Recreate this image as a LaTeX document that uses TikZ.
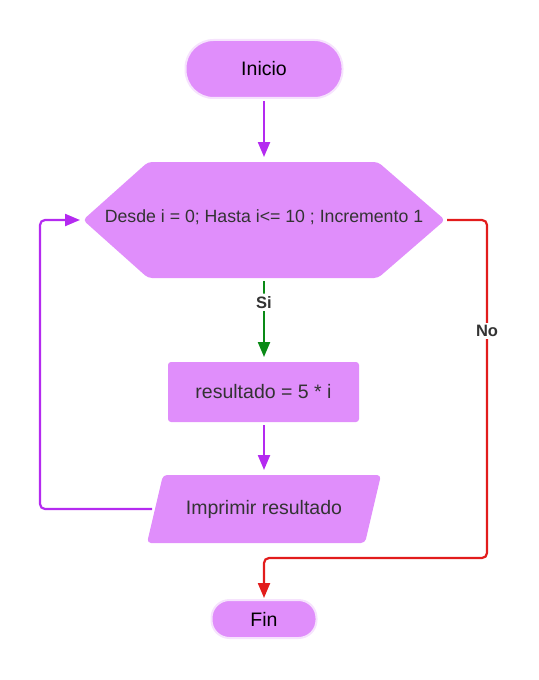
\documentclass[tikz,border=0pt]{standalone}
\usepackage{fontspec}
\setmainfont{Liberation Sans}
\usetikzlibrary{arrows.meta,calc}
\definecolor{boxfill}{HTML}{E08EFB}
\definecolor{boxrim}{HTML}{F6E3FD}
\definecolor{arrpurple}{HTML}{B42AF0}
\definecolor{arrgreen}{HTML}{0A8A16}
\definecolor{arrred}{HTML}{E21C1C}
\definecolor{txtdark}{HTML}{333333}
\tikzset{
  terminal/.style={fill=boxfill, draw=boxrim, line width=2bp, inner sep=0pt, text=black, font=\fontsize{19.5bp}{22bp}\selectfont},
  procbox/.style={fill=boxfill, rounded corners=3bp, inner sep=0pt, text=txtdark, font=\fontsize{19.5bp}{22bp}\selectfont},
  shapefill/.style={fill=boxfill, rounded corners=4bp},
  plain/.style={inner sep=0pt, text=txtdark},
  conn/.style={line width=2.2bp, -{Triangle[length=15bp,width=12bp]}, rounded corners=5bp},
  lbl/.style={fill=white, inner sep=2.5bp, text=txtdark, font=\bfseries\fontsize{16.5bp}{18bp}\selectfont},
}
\begin{document}
\begin{tikzpicture}[x=1bp,y=-1bp]
\useasboundingbox (0,0) rectangle (539,680);
% terminals
\node[terminal, rounded corners=28bp, minimum width=157bp, minimum height=58bp] (ini) at (264,69) {Inicio};
\node[terminal, rounded corners=18bp, minimum width=105bp, minimum height=38bp] (fin) at (264,619) {Fin};
% hexagon
\fill[shapefill] (83,220) -- (148,162) -- (378,162) -- (445,220) -- (378,278) -- (148,278) -- cycle;
\node[plain, minimum width=362bp, minimum height=116bp, font=\fontsize{17.7bp}{20bp}\selectfont] (hex) at (264,220) {};
\node[plain, font=\fontsize{17.7bp}{20bp}\selectfont] (hextxt) at (264,217) {Desde i = 0; Hasta i<= 10 ; Incremento 1};
% process
\node[procbox, minimum width=191bp, minimum height=60bp] (res) at (263.5,392) {resultado = 5 * i};
% parallelogram
\fill[shapefill] (163,475) -- (381,475) -- (365,543) -- (147,543) -- cycle;
\node[plain, minimum width=218bp, minimum height=68bp, font=\fontsize{19.5bp}{22bp}\selectfont] (out) at (264,509) {Imprimir resultado};
% connectors
\coordinate (loopA) at (40,509);
\coordinate (loopB) at (40,220);
\coordinate (noA) at (487,220);
\coordinate (noB) at (487,558);
\coordinate (noC) at (264,558);
\draw[conn, arrpurple] ([yshift=-2bp]ini.south) -- (264,157);
\draw[conn, arrgreen] (264,281) -- (264,357) node[lbl, pos=0.28] {Si};
\draw[conn, arrpurple] (264,425) -- (264,470);
\draw[conn, arrpurple] (152,509) -- (loopA) -- (loopB) -- (80,220);
\draw[conn, arrred] (447,220) -- (noA) -- (noB) -- (noC) -- (264,598);
\node[lbl] (nolbl) at (487,331) {No};
\end{tikzpicture}
\end{document}
